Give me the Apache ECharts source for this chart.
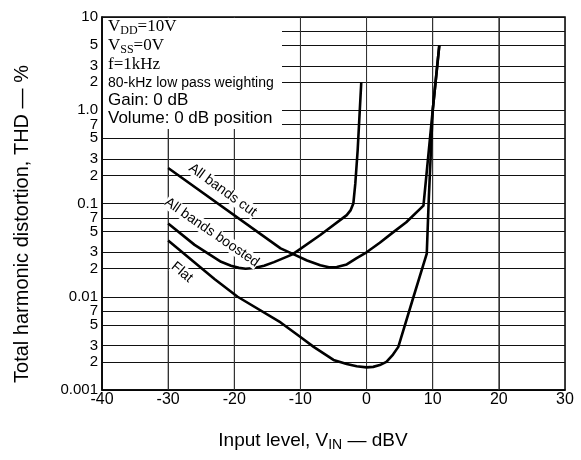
<!DOCTYPE html>
<html>
<head>
<meta charset="utf-8">
<script src="https://cdn.jsdelivr.net/npm/echarts@6/dist/echarts.min.js"></script>
<style>
  html, body { margin: 0; padding: 0; background: #fff; }
  #chart { width: 581px; height: 460px; }
</style>
</head>
<body>
<div id="chart"></div>
<script>
// THD vs input level
const cutX = [-30, -13, -11, -9, -7, -5.7, -4.5, -3, -1.5, 0, 2, 4, 6, 8.6, 10, 11];
const cutY = [0.24, 0.033, 0.0285, 0.0245, 0.0218, 0.0207, 0.0208, 0.0222, 0.026, 0.03, 0.038, 0.049, 0.063, 0.095, 1.0, 5.0];

const boostX = [-30, -26, -22, -20.5, -19.3, -18.3, -17, -15.5, -14, -11.2, -7, -3, -2.4, -2, -1.7, -1.35, -0.8];
const boostY = [0.061, 0.036, 0.0237, 0.0215, 0.0204, 0.02, 0.0203, 0.0215, 0.0235, 0.0285, 0.046, 0.075, 0.085, 0.1, 0.164, 0.37, 2.0];

const flatX = [-30, -23, -19.5, -13, -10, -8, -5, -3, -1.5, 0, 1, 2, 3, 4, 4.8, 7.1, 9.1, 9.4, 10, 11];
const flatY = [0.04, 0.0155, 0.01, 0.0053, 0.0037, 0.0029, 0.0021, 0.0019, 0.0018, 0.00175, 0.00177, 0.00185, 0.002, 0.0024, 0.0029, 0.01, 0.029, 0.11, 1.0, 5.0];

const xTicks = [-40, -30, -20, -10, 0, 10, 20, 30];
const yTicks = [0.001, 0.002, 0.003, 0.005, 0.007, 0.01, 0.02, 0.03, 0.05, 0.07,
  0.1, 0.2, 0.3, 0.5, 0.7, 1, 2, 3, 5, 7, 10];
const yTickLabels = ["0.001", "2", "3", "5", "7", "0.01", "2", "3", "5", "7",
  "0.1", "2", "3", "5", "7", "1.0", "2", "3", "5", "7", "10"];

const curveNames = ["All bands cut", "All bands boosted", "Flat"];

const pairs = (xs, ys) => xs.map((x, i) => [x, ys[i]]);
const sans = "Liberation Sans";
const serif = "Liberation Serif";
const yMin = yTicks[0];
const yMax = yTicks[yTicks.length - 1];

const labelFor = v => {
  let i = yTicks.findIndex(t => Math.abs(t - v) / t < 1e-6);
  return i >= 0 ? yTickLabels[i] : "";
};

const chart = echarts.init(document.getElementById("chart"));

function makeSeries(name, data) {
  return {
    name: name,
    type: "line",
    data: data,
    showSymbol: false,
    smooth: false,
    lineStyle: { color: "#000", width: 2.6, join: "round" },
    z: 5
  };
}

let series = [
  makeSeries(curveNames[0], pairs(cutX, cutY)),
  makeSeries(curveNames[1], pairs(boostX, boostY)),
  makeSeries(curveNames[2], pairs(flatX, flatY))
];
// vertical grid lines at the inner x ticks (splitLine would not show here)
xTicks.slice(1, -1).forEach(v => {
  series.push({
    type: "line",
    data: [[v, yMin], [v, yMax]],
    showSymbol: false,
    silent: true,
    lineStyle: { color: "#333", width: 1 },
    z: 1
  });
});

const yLabelStyle = { color: "#000", fontSize: 15, fontFamily: sans, margin: 4 };

const option = {
  animation: false,
  backgroundColor: "#fff",
  grid: {
    left: 102,
    right: 16,
    top: 17,
    bottom: 70,
    show: true,
    borderColor: "#000",
    borderWidth: 1.5
  },
  xAxis: {
    type: "value",
    min: -40,
    max: 30,
    interval: 10,
    axisLine: { lineStyle: { color: "#000", width: 1.5 } },
    axisTick: { show: false },
    axisLabel: { color: "#000", fontSize: 16, fontFamily: sans, margin: 2 },
    splitLine: { show: true, lineStyle: { color: "#333", width: 1 } }
  },
  yAxis: [
    {
      type: "log",
      logBase: 10,
      min: yMin,
      max: yMax,
      axisLine: { show: true, onZero: false, lineStyle: { color: "#000", width: 1.5 } },
      axisTick: { show: false, customValues: yTicks },
      axisLabel: Object.assign({
        customValues: yTicks.slice(0, -1),
        showMinLabel: true,
        formatter: labelFor
      }, yLabelStyle),
      splitLine: { show: true, lineStyle: { color: "#111", width: 1.2 } }
    },
    {
      // only carries the top "10" label, which the main axis drops as overlapping
      type: "log",
      logBase: 10,
      min: yMin,
      max: yMax,
      position: "left",
      axisLine: { show: false, onZero: false },
      axisTick: { show: false },
      splitLine: { show: false },
      axisLabel: Object.assign({
        customValues: [yMax],
        showMaxLabel: true,
        formatter: labelFor
      }, yLabelStyle)
    }
  ],
  series: series
};

chart.setOption(option);

// conditions box + axis titles + curve labels
const boxText = (y, text, rich) => ({
  type: "text",
  x: 108,
  y: y,
  z: 101,
  style: { text: text, rich: rich, verticalAlign: "middle", fill: "#000" }
});
const serifRich = {
  m: { fontFamily: serif, fontSize: 17, color: "#000" },
  s: { fontFamily: serif, fontSize: 12, color: "#000", padding: [7, 0, 0, 0] }
};

// where the curve labels sit, in data coords, and their tilt in degrees
const curveLabelAt = [[-21.75, 0.139, 36], [-23.4, 0.049, 34.5], [-27.9, 0.0183, 40]];

const labels = curveLabelAt.map((p, i) => {
  let px = chart.convertToPixel({ gridIndex: 0 }, [p[0], p[1]]);
  return {
    type: "text",
    x: px[0],
    y: px[1],
    rotation: -p[2] * Math.PI / 180,
    z: 50,
    style: {
      text: curveNames[i],
      fontFamily: sans,
      fontSize: 14,
      fill: "#000",
      align: "center",
      verticalAlign: "middle",
      backgroundColor: "#fff"
    }
  };
});

chart.setOption({
  graphic: {
    elements: [
      {
        type: "rect",
        z: 100,
        shape: { x: 103, y: 18, width: 179, height: 111 },
        style: { fill: "#fff" }
      },
      boxText(27, "{m|V}{s|DD}{m|=10V}", serifRich),
      boxText(46, "{m|V}{s|SS}{m|=0V}", serifRich),
      boxText(65, "{m|f=1kHz}", serifRich),
      boxText(83, "{a|80-kHz low pass weighting}", { a: { fontFamily: sans, fontSize: 14, color: "#000" } }),
      boxText(100, "{a|Gain: 0 dB}", { a: { fontFamily: sans, fontSize: 17, color: "#000" } }),
      boxText(118, "{a|Volume: 0 dB position}", { a: { fontFamily: sans, fontSize: 17, color: "#000" } }),
      {
        type: "text",
        x: 313,
        y: 441,
        style: {
          text: "{a|Input level, V}{s|IN}{a| — dBV}",
          align: "center",
          verticalAlign: "middle",
          rich: {
            a: { fontFamily: sans, fontSize: 19, color: "#000" },
            s: { fontFamily: sans, fontSize: 14, color: "#000", padding: [8, 0, 0, 0] }
          }
        }
      },
      {
        type: "text",
        x: 22,
        y: 224,
        rotation: Math.PI / 2,
        style: {
          text: "Total harmonic distortion, THD — %",
          fontFamily: sans,
          fontSize: 20,
          fill: "#000",
          align: "center",
          verticalAlign: "middle"
        }
      }
    ].concat(labels)
  }
});
</script>
</body>
</html>
